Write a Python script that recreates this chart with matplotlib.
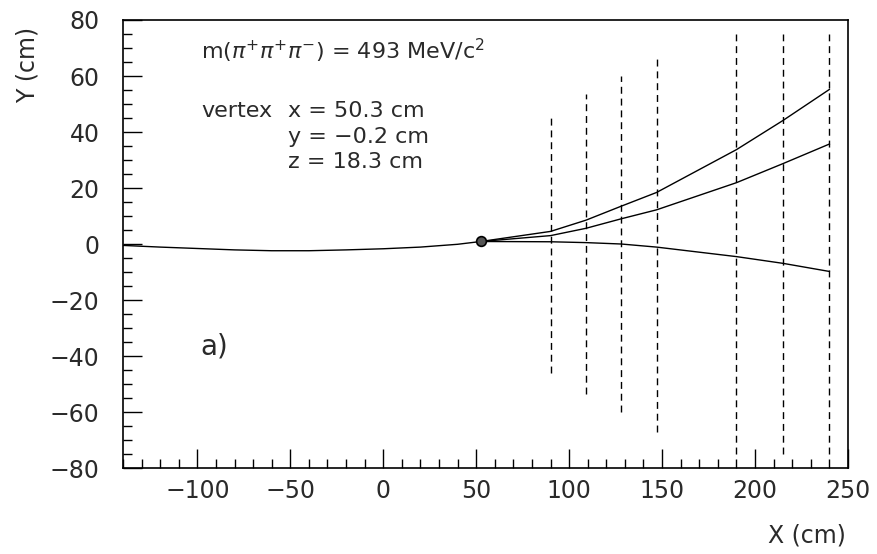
import matplotlib
matplotlib.use("Agg")
import matplotlib.pyplot as plt
from matplotlib.ticker import MultipleLocator
import numpy as np

plt.rcParams['font.family'] = ['DejaVu Sans']
plt.rcParams['mathtext.fontset'] = 'dejavusans'

# beam track (vertex comes in from the left)
beam_x = [-140, -120, -100, -80, -60, -50, -40, -20, 0, 20, 40, 52.5]
beam_y = [-0.5, -1.1, -1.6, -2.1, -2.4, -2.4, -2.4, -2.1, -1.7, -1.1, -0.1, 0.9]

# three outgoing pion tracks
trk_x = [52.5, 90, 109, 128, 147, 190, 215, 240]
trk1_y = [0.9, 4.5, 8.5, 13.5, 18.4, 33.7, 44.1, 55.2]
trk2_y = [0.9, 3.0, 5.6, 9.0, 12.2, 21.9, 28.7, 35.7]
trk3_y = [0.9, 0.8, 0.5, 0.0, -1.1, -4.5, -6.9, -9.8]

# detector planes: x position and half height
plane_x = [90, 109, 128, 147, 190, 215, 240]
plane_h = [46, 53.5, 60, 67, 75, 75, 75]

vtx_x, vtx_y = 52.5, 0.9

fig = plt.figure(figsize=(8.78, 5.54), dpi=100)
ax = fig.add_axes([0.1401, 0.1552, 0.8257, 0.8087])

txt = '#2a2a2a'

ax.plot(beam_x, beam_y, color='black', lw=1.0)
for yy in (trk1_y, trk2_y, trk3_y):
    ax.plot(trk_x, yy, color='black', lw=1.0)

for px, ph in zip(plane_x, plane_h):
    ax.plot([px, px], [-ph, ph], color='black', lw=1.0, dashes=(5, 3.5))

ax.plot([vtx_x], [vtx_y], 'o', ms=7, mfc='#555555', mec='black', mew=1.2)

ax.set_xlim(-140, 250)
ax.set_ylim(-80, 80)
ax.xaxis.set_major_locator(MultipleLocator(50))
ax.xaxis.set_minor_locator(MultipleLocator(10))
ax.yaxis.set_major_locator(MultipleLocator(20))
ax.yaxis.set_minor_locator(MultipleLocator(5))
ax.tick_params(which='both', direction='in', top=False, right=False,
               colors='black', labelcolor=txt, labelsize=17, width=1.0)
ax.tick_params(which='major', length=13.5)
ax.tick_params(which='minor', length=6.8)
ax.tick_params(axis='y', which='major', pad=17)
ax.tick_params(axis='x', which='major', pad=8)
for s in ax.spines.values():
    s.set_linewidth(1.2)

fs = 16
ax.text(-98, 69, r'm($\pi^{+}\pi^{+}\pi^{-}$) = 493 MeV/c$^{2}$',
        fontsize=fs, color=txt, va='center', ha='left')
ax.text(-98, 47.4, 'vertex', fontsize=fs, color=txt, va='center', ha='left')
ax.text(-51, 47.4, 'x = 50.3 cm', fontsize=fs, color=txt, va='center', ha='left')
ax.text(-51, 38.2, 'y = \u22120.2 cm', fontsize=fs, color=txt, va='center', ha='left')
ax.text(-51, 29.3, 'z = 18.3 cm', fontsize=fs, color=txt, va='center', ha='left')
ax.text(-98.5, -36.7, 'a)', fontsize=20, color=txt, va='center', ha='left')

fig.text(0.031, 0.883, 'Y (cm)', rotation=90, fontsize=17, color=txt,
         va='center', ha='center')
fig.text(0.963, 0.034, 'X (cm)', fontsize=17, color=txt, va='center', ha='right')

fig.savefig('out.png', dpi=100)
